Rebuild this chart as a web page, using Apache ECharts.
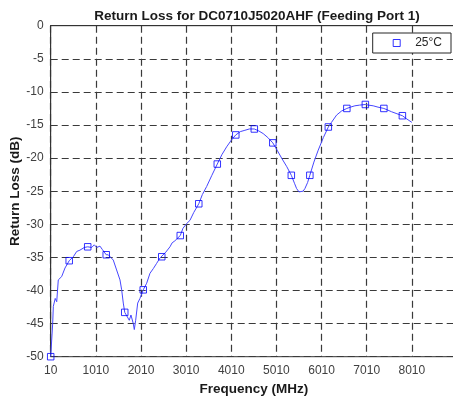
<!DOCTYPE html>
<html>
<head>
<meta charset="utf-8">
<script src="https://cdn.jsdelivr.net/npm/echarts@6/dist/echarts.min.js"></script>
<style>
  html, body { margin: 0; padding: 0; background: #fff; }
  #chart { width: 453px; height: 402px; }
</style>
</head>
<body>
<div id="chart"></div>
<script>
// measured trace (MHz, dB)
var traceFreq = [10, 54, 68, 110, 143, 178, 216, 253, 327, 420, 511, 586, 659, 696, 754, 830, 918, 976, 1029, 1102, 1153, 1240, 1285, 1396, 1470, 1545, 1582, 1618, 1650, 1693, 1751, 1788, 1839, 1862, 1892, 1937, 1987, 2060, 2136, 2209, 2282, 2357, 2430, 2470, 2560, 2652, 2700, 2760, 2880, 2940, 3021, 3095, 3180, 3290, 3370, 3464, 3580, 3700, 3800, 3907, 4010, 4110, 4210, 4312, 4410, 4520, 4620, 4717, 4820, 4930, 5025, 5125, 5240, 5340, 5410, 5457, 5510, 5553, 5600, 5641, 5700, 5750, 5840, 5936, 6050, 6160, 6230, 6343, 6450, 6570, 6650, 6748, 6850, 6980, 7050, 7153, 7260, 7390, 7460, 7561, 7680, 7800, 7900, 8010];
var traceLoss = [-50, -45, -42.4, -41.2, -41.7, -38.4, -38.7, -37.9, -36.6, -35.5, -34.9, -34.1, -33.9, -34, -33.5, -33.4, -33.5, -33.1, -33.5, -33.3, -33.8, -34.6, -34.6, -35.4, -36.9, -38.4, -39.9, -41.9, -43.3, -43.4, -44.5, -43.7, -45, -45.9, -44.5, -41.9, -41.2, -39.9, -38.9, -37.4, -36.7, -35.9, -35.1, -34.9, -34.2, -33.4, -32.8, -32.5, -31.7, -30.6, -29.9, -29.4, -28.2, -26.9, -25.5, -24.3, -22.6, -20.9, -19.5, -18.3, -17.3, -16.5, -16.0, -15.8, -15.6, -15.6, -15.9, -16.3, -16.9, -17.7, -18.8, -20.0, -21.3, -22.6, -23.8, -24.6, -25.1, -25.2, -25.0, -24.6, -23.7, -22.6, -20.6, -18.8, -16.9, -15.3, -14.6, -13.5, -12.9, -12.5, -12.3, -12.1, -12.0, -11.9, -12.0, -12.1, -12.3, -12.5, -12.7, -13.0, -13.3, -13.6, -14.1, -14.6];

// marker points
var markFreq = [10, 420, 830, 1240, 1650, 2060, 2470, 2880, 3290, 3700, 4110, 4520, 4930, 5340, 5750, 6160, 6570, 6980, 7390, 7800];
var markLoss = [-50, -35.5, -33.4, -34.6, -43.3, -39.9, -34.9, -31.7, -26.9, -20.9, -16.5, -15.6, -17.7, -22.6, -22.6, -15.3, -12.5, -11.9, -12.5, -13.6];

// axis runs 10 .. 9010, ticks every 1000 from 10
var freqStart = 10;
var freqSpan = 9000;
var freqStep = 1000;
var lossMin = -50;
var lossMax = 0;
var lossStep = 5;

var font = 'Liberation Sans, Arial, sans-serif';

function pairs(xs, ys) {
  var out = [];
  for (var i = 0; i < xs.length; i++) {
    out.push([xs[i] - freqStart, ys[i]]);
  }
  return out;
}

var gridLine = {
  show: true,
  lineStyle: { color: '#3a3a3a', type: [7, 4], width: 1.2 }
};

var chart = echarts.init(document.getElementById('chart'));

var option = {
  animation: false,
  backgroundColor: '#fff',
  title: {
    text: 'Return Loss for DC0710J5020AHF (Feeding Port 1)',
    left: 252,
    textAlign: 'center',
    top: 4,
    textStyle: { fontFamily: font, fontSize: 13.5, fontWeight: 'bold', color: '#1a1a1a' }
  },
  grid: {
    left: 50.7,
    top: 25.7,
    right: -4,
    bottom: 45.3,
    outerBoundsMode: 'none',
    containLabel: false,
    show: true,
    borderColor: '#333',
    borderWidth: 1,
    backgroundColor: 'transparent'
  },
  legend: {
    data: ['25°C'],
    right: 2,
    top: 33,
    orient: 'vertical',
    backgroundColor: '#fff',
    borderColor: '#262626',
    borderWidth: 1,
    borderRadius: 0,
    padding: [4, 9, 4, 20],
    itemWidth: 7,
    itemHeight: 7,
    itemGap: 0,
    icon: 'rect',
    itemStyle: { color: 'transparent', borderColor: '#0000ff', borderWidth: 1 },
    textStyle: { fontFamily: font, fontSize: 12, color: '#262626', padding: [0, 0, 0, 10] }
  },
  xAxis: {
    type: 'value',
    min: 0,
    max: freqSpan,
    interval: freqStep,
    name: 'Frequency (MHz)',
    nameLocation: 'middle',
    nameGap: 26,
    nameTextStyle: { fontFamily: font, fontSize: 13.5, fontWeight: 'bold', color: '#1a1a1a' },
    axisLine: { show: true, lineStyle: { color: '#333', width: 1 } },
    axisTick: { show: false },
    axisLabel: {
      fontFamily: font,
      fontSize: 12,
      color: '#404040',
      margin: 8,
      formatter: function(v) {
        if (v >= freqSpan) return '';
        return String(v + freqStart);
      }
    },
    splitLine: gridLine
  },
  yAxis: {
    type: 'value',
    min: lossMin,
    max: lossMax,
    interval: lossStep,
    name: 'Return Loss (dB)',
    nameLocation: 'middle',
    nameRotate: 90,
    nameGap: 28,
    nameMoveOverlap: false,
    nameTextStyle: { fontFamily: font, fontSize: 13.5, fontWeight: 'bold', color: '#1a1a1a' },
    axisLine: { show: true, lineStyle: { color: '#333', width: 1 } },
    axisTick: { show: false },
    axisLabel: { fontFamily: font, fontSize: 12, color: '#404040', margin: 7 },
    splitLine: gridLine
  },
  series: [
    {
      name: 'trace',
      type: 'line',
      data: pairs(traceFreq, traceLoss),
      showSymbol: false,
      symbol: 'none',
      lineStyle: { color: '#4646ff', width: 1 },
      z: 3
    },
    {
      name: '25°C',
      type: 'scatter',
      data: pairs(markFreq, markLoss),
      symbol: 'rect',
      symbolSize: 6.5,
      itemStyle: { color: 'transparent', borderColor: '#0000ff', borderWidth: 1 },
      z: 4
    }
  ]
};

chart.setOption(option);
</script>
</body>
</html>
